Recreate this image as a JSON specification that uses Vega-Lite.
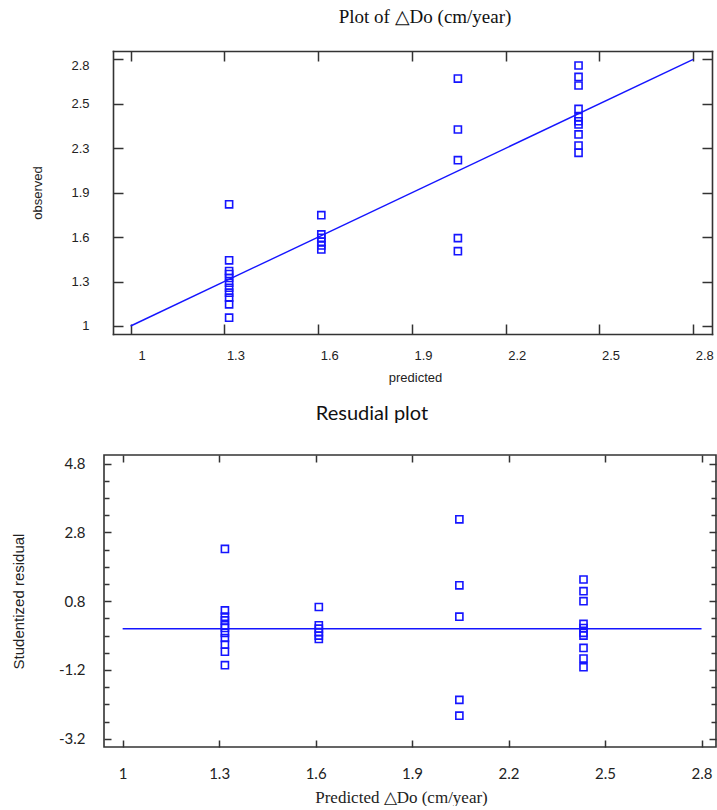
{
  "$schema": "https://vega.github.io/schema/vega-lite/v6.json",
  "padding": {"left": 10, "top": 8, "right": 0, "bottom": 0},
  "background": "white",
  "datasets": {
    "obs": [
      {"pred": 1.315, "obs": 1.821}, {"pred": 1.315, "obs": 1.443}, {"pred": 1.315, "obs": 1.371},
      {"pred": 1.315, "obs": 1.351}, {"pred": 1.315, "obs": 1.324}, {"pred": 1.315, "obs": 1.292},
      {"pred": 1.315, "obs": 1.258}, {"pred": 1.315, "obs": 1.225}, {"pred": 1.315, "obs": 1.191},
      {"pred": 1.315, "obs": 1.146}, {"pred": 1.315, "obs": 1.056},
      {"pred": 1.61, "obs": 1.748}, {"pred": 1.61, "obs": 1.618}, {"pred": 1.61, "obs": 1.595},
      {"pred": 1.61, "obs": 1.568}, {"pred": 1.61, "obs": 1.544}, {"pred": 1.61, "obs": 1.517},
      {"pred": 2.047, "obs": 2.67}, {"pred": 2.047, "obs": 2.326}, {"pred": 2.047, "obs": 2.119},
      {"pred": 2.047, "obs": 1.593}, {"pred": 2.047, "obs": 1.505},
      {"pred": 2.433, "obs": 2.758}, {"pred": 2.433, "obs": 2.681}, {"pred": 2.433, "obs": 2.623},
      {"pred": 2.433, "obs": 2.465}, {"pred": 2.433, "obs": 2.411}, {"pred": 2.433, "obs": 2.382},
      {"pred": 2.433, "obs": 2.36}, {"pred": 2.433, "obs": 2.293}, {"pred": 2.433, "obs": 2.218},
      {"pred": 2.433, "obs": 2.169}
    ],
    "fit": [{"pred": 1, "obs": 1}, {"pred": 2.8, "obs": 2.8}],
    "res": [
      {"pred": 1.318, "res": 2.32}, {"pred": 1.318, "res": 0.53}, {"pred": 1.318, "res": 0.35},
      {"pred": 1.318, "res": 0.24}, {"pred": 1.318, "res": 0.1}, {"pred": 1.318, "res": 0.02},
      {"pred": 1.318, "res": -0.12}, {"pred": 1.318, "res": -0.27}, {"pred": 1.318, "res": -0.46},
      {"pred": 1.318, "res": -0.67}, {"pred": 1.318, "res": -1.06},
      {"pred": 1.61, "res": 0.63}, {"pred": 1.61, "res": 0.1}, {"pred": 1.61, "res": 0.0},
      {"pred": 1.61, "res": -0.1}, {"pred": 1.61, "res": -0.2}, {"pred": 1.61, "res": -0.3},
      {"pred": 2.047, "res": 3.18}, {"pred": 2.047, "res": 1.26}, {"pred": 2.047, "res": 0.35},
      {"pred": 2.047, "res": -2.07}, {"pred": 2.047, "res": -2.53},
      {"pred": 2.433, "res": 1.43}, {"pred": 2.433, "res": 1.09}, {"pred": 2.433, "res": 0.8},
      {"pred": 2.433, "res": 0.14}, {"pred": 2.433, "res": 0.02}, {"pred": 2.433, "res": -0.12},
      {"pred": 2.433, "res": -0.2}, {"pred": 2.433, "res": -0.56}, {"pred": 2.433, "res": -0.87},
      {"pred": 2.433, "res": -1.12}
    ],
    "zero": [{"x1": 1, "x2": 2.8, "y": 0}]
  },
  "spacing": 19,
  "vconcat": [
    {
      "width": 608,
      "height": 283,
      "view": {"stroke": null},
      "title": {"text": "Plot of △Do (cm/year)", "font": "Liberation Serif", "fontSize": 19, "fontWeight": "normal", "color": "#111", "offset": 23, "dx": 17},
      "resolve": {"axis": {"x": "independent", "y": "independent"}},
      "layer": [
        {
          "data": {"name": "obs"},
          "mark": {"type": "point", "shape": "square", "filled": false, "color": "#1515ff", "size": 50, "strokeWidth": 1.6, "opacity": 1},
          "encoding": {
            "x": {"field": "pred", "type": "quantitative", "scale": {"domain": [0.9435, 2.86], "range": [9, 608], "nice": false, "zero": false},
              "axis": {"orient": "bottom", "values": [1, 1.3, 1.6, 1.9, 2.2, 2.5, 2.8], "labelExpr": "'' + datum.value", "title": "predicted", "titleX": 311,
                "domain": true, "tickSize": -10, "labelPadding": 25, "labelOffset": 11, "labelFont": "Liberation Sans", "labelFontSize": 13, "titleFont": "Liberation Sans", "titleFontSize": 13, "titleFontWeight": "normal", "titlePadding": 9}},
            "y": {"field": "obs", "type": "quantitative", "scale": {"domain": [0.946, 2.856], "nice": false, "zero": false},
              "axis": {"orient": "left", "offset": -9, "values": [1, 1.3, 1.6, 1.9, 2.2, 2.5, 2.8], "labelExpr": "abs(datum.value-2.2)<0.01 ? '2.3' : '' + datum.value", "title": "observed",
                "domain": true, "tickSize": -10, "labelPadding": 34, "labelBaseline": {"condition": {"test": "datum.value > 2.7", "value": "top"}, "value": "middle"},
                "labelFont": "Liberation Sans", "labelFontSize": 13, "titleFont": "Liberation Sans", "titleFontSize": 13, "titleFontWeight": "normal", "titlePadding": 26}}
          }
        },
        {
          "data": {"name": "fit"},
          "mark": {"type": "line", "color": "#1515ff", "strokeWidth": 1.4},
          "encoding": {
            "x": {"field": "pred", "type": "quantitative", "scale": {"domain": [0.9435, 2.86], "range": [9, 608], "nice": false, "zero": false},
              "axis": {"orient": "top", "domain": true, "values": [1, 1.3, 1.6, 1.9, 2.2, 2.5, 2.8], "labels": false, "title": null, "tickSize": -10}},
            "y": {"field": "obs", "type": "quantitative", "scale": {"domain": [0.946, 2.856], "nice": false, "zero": false},
              "axis": {"orient": "right", "domain": true, "values": [1, 1.3, 1.6, 1.9, 2.2, 2.5, 2.8], "labels": false, "title": null, "tickSize": -10}}
          }
        }
      ]
    },
    {
      "width": 612,
      "height": 292,
      "title": {"text": "Resudial plot", "font": "Lato", "fontSize": 20, "fontWeight": "normal", "color": "#111", "offset": 30, "dx": -38},
      "resolve": {"axis": {"x": "independent", "y": "independent"}},
      "layer": [
        {
          "data": {"name": "res"},
          "mark": {"type": "point", "shape": "square", "filled": false, "color": "#1515ff", "size": 50, "strokeWidth": 1.6, "opacity": 1},
          "encoding": {
            "x": {"field": "pred", "type": "quantitative", "scale": {"domain": [0.942, 2.845], "nice": false, "zero": false},
              "axis": {"orient": "bottom", "values": [1, 1.3, 1.6, 1.9, 2.2, 2.5, 2.8], "labelExpr": "'' + datum.value", "title": "Predicted △Do (cm/year)", "titleX": 297,
                "tickSize": -7, "labelPadding": 26, "labelFont": "Lato", "labelFontSize": 15, "titleFont": "Liberation Serif", "titleFontSize": 17, "titleFontWeight": "normal", "titlePadding": 8}},
            "y": {"field": "res", "type": "quantitative", "scale": {"domain": [-3.44, 5.05], "nice": false, "zero": false},
              "axis": {"orient": "left", "values": [-3.2, -1.2, 0.8, 2.8, 4.8], "labelExpr": "'' + datum.value", "title": "Studentized residual",
                "tickSize": -7, "labelPadding": 26, "labelFont": "Lato", "labelFontSize": 15, "titleFont": "Liberation Sans", "titleFontSize": 15, "titleFontWeight": "normal", "titlePadding": 32}}
          }
        },
        {
          "data": {"name": "zero"},
          "mark": {"type": "rule", "color": "#1515ff", "strokeWidth": 1.6},
          "encoding": {
            "x": {"field": "x1", "type": "quantitative", "scale": {"domain": [0.942, 2.845], "nice": false, "zero": false},
              "axis": {"orient": "top", "values": [1, 1.3, 1.6, 1.9, 2.2, 2.5, 2.8], "labels": false, "title": null, "tickSize": -7}},
            "x2": {"field": "x2"},
            "y": {"field": "y", "type": "quantitative", "scale": {"domain": [-3.44, 5.05], "nice": false, "zero": false},
              "axis": {"orient": "right", "values": [-3.2, -1.2, 0.8, 2.8, 4.8], "labels": false, "title": null, "tickSize": -7}}
          }
        },
        {
          "data": {"name": "zero"},
          "mark": {"type": "rule", "opacity": 0},
          "encoding": {
            "x": {"field": "x1", "type": "quantitative", "scale": {"domain": [0.942, 2.845], "nice": false, "zero": false}, "axis": null},
            "x2": {"field": "x2"},
            "y": {"field": "y", "type": "quantitative", "scale": {"domain": [-3.44, 5.05], "nice": false, "zero": false},
              "axis": {"orient": "left", "values": [-2.7, -2.2, -1.7, -0.7, -0.2, 0.3, 1.3, 1.8, 2.3, 3.3, 3.8, 4.3], "labels": false, "title": null, "tickSize": -5}}
          }
        },
        {
          "data": {"name": "zero"},
          "mark": {"type": "rule", "opacity": 0},
          "encoding": {
            "x": {"field": "x1", "type": "quantitative", "scale": {"domain": [0.942, 2.845], "nice": false, "zero": false}, "axis": null},
            "x2": {"field": "x2"},
            "y": {"field": "y", "type": "quantitative", "scale": {"domain": [-3.44, 5.05], "nice": false, "zero": false},
              "axis": {"orient": "right", "values": [-2.7, -2.2, -1.7, -0.7, -0.2, 0.3, 1.3, 1.8, 2.3, 3.3, 3.8, 4.3], "labels": false, "title": null, "tickSize": -5}}
          }
        }
      ]
    }
  ],
  "config": {
    "view": {"stroke": "#333", "strokeWidth": 1.6},
    "axis": {"domain": false, "domainColor": "#333", "domainWidth": 1.6, "domainCap": "square", "grid": false, "tickColor": "#333", "tickWidth": 1.5, "labelColor": "#222", "titleColor": "#222"},
    "title": {"anchor": "middle"}
  }
}
